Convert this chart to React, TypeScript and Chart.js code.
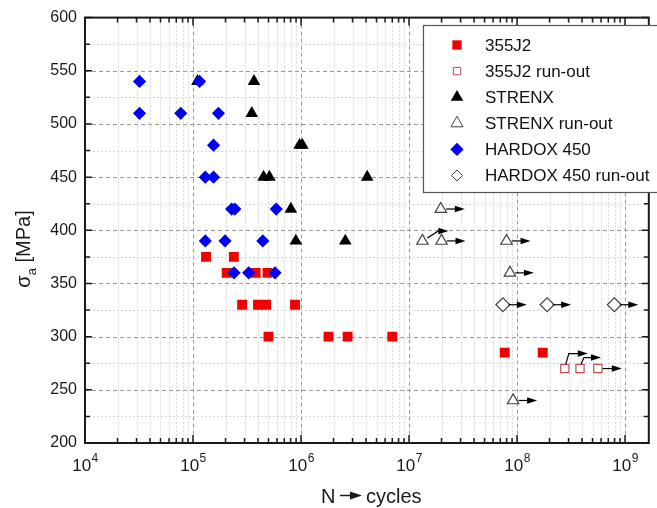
import React, { useEffect, useRef } from 'react';
import { Chart, registerables } from 'chart.js';

Chart.register(...registerables);

// ---- data ----
const s355N = [1.32e5, 2.39e5, 2.05e5, 3.8e5, 4.9e5, 2.85e5, 4.0e5, 4.75e5, 8.8e5, 5.0e5, 1.8e6, 2.7e6, 7.0e6, 7.7e7, 1.73e8];
const s355S = [375, 375, 360, 360, 360, 330, 330, 330, 330, 300, 300, 300, 300, 285, 285];

const s355RunN = [2.77e8, 3.83e8, 5.6e8];
const s355RunS = [270, 270, 270];

const strenxN = [1.1e5, 3.67e5, 3.5e5, 9.7e5, 1.03e6, 4.5e5, 5.1e5, 4.1e6, 8.05e5, 8.95e5, 2.57e6];
const strenxS = [540, 540, 510, 480, 480, 450, 450, 450, 420, 390, 390];

const strenxRunN = [1.97e7, 1.33e7, 2.0e7, 8.0e7, 8.6e7, 9.2e7];
const strenxRunS = [420, 390, 390, 390, 360, 240];

const hardoxN = [3.2e4, 1.15e5, 3.2e4, 7.7e4, 1.72e5, 1.55e5, 1.3e5, 1.55e5, 2.28e5, 2.44e5, 5.9e5, 1.3e5, 1.98e5, 4.43e5, 2.4e5, 3.28e5, 5.75e5];
const hardoxS = [540, 540, 510, 510, 510, 480, 450, 450, 420, 420, 420, 390, 390, 390, 360, 360, 360];

const hardoxRunN = [7.4e7, 1.9e8, 7.96e8];
const hardoxRunS = [330, 330, 330];

const seriesNames = ['355J2', '355J2 run-out', 'STRENX', 'STRENX run-out', 'HARDOX 450', 'HARDOX 450 run-out'];
const runOutNames = ['355J2 run-out', 'STRENX run-out', 'HARDOX 450 run-out'];
// run-out points whose arrow is drawn bent upwards (dataset name, point index)
const bentArrowSeries = ['355J2 run-out', '355J2 run-out', 'STRENX run-out'];
const bentArrowIndex = [0, 1, 1];

const xTickValues = [1e4, 1e5, 1e6, 1e7, 1e8, 1e9];
const yMin = 200;
const yMax = 600;
const xMin = 1e4;
const xMax = 1.66e9;

const FONT = '"Liberation Sans", Arial, Helvetica, sans-serif';

function pts(n: number[], s: number[]) {
  return n.map((v, i) => ({ x: v, y: s[i] }));
}

function markerPath(ctx: CanvasRenderingContext2D, style: string, x: number, y: number, r: number) {
  ctx.beginPath();
  if (style === 'rect') {
    const h = r * Math.SQRT1_2;
    ctx.rect(x - h, y - h, 2 * h, 2 * h);
  } else if (style === 'triangle') {
    for (let k = 0; k < 3; k++) {
      const a = -Math.PI / 2 + (k * 2 * Math.PI) / 3;
      const px = x + Math.cos(a) * r;
      const py = y + Math.sin(a) * r;
      if (k === 0) ctx.moveTo(px, py);
      else ctx.lineTo(px, py);
    }
    ctx.closePath();
  } else {
    ctx.moveTo(x, y - r);
    ctx.lineTo(x + r, y);
    ctx.lineTo(x, y + r);
    ctx.lineTo(x - r, y);
    ctx.closePath();
  }
}

function arrowHead(ctx: CanvasRenderingContext2D, tipX: number, y: number) {
  ctx.beginPath();
  ctx.moveTo(tipX, y);
  ctx.lineTo(tipX - 10, y - 3.2);
  ctx.lineTo(tipX - 10, y + 3.2);
  ctx.closePath();
  ctx.fill();
}

const decor = {
  id: 'decor',
  beforeDatasetsDraw(chart: any) {
    const { ctx, chartArea } = chart;
    const { left, right, top, bottom } = chartArea;
    const xs = chart.scales.x;
    const ys = chart.scales.y;
    ctx.save();
    ctx.lineWidth = 1;
    // vertical grid (log)
    for (let d = 4; d <= 9; d++) {
      for (let k = 1; k <= 9; k++) {
        const v = k * Math.pow(10, d);
        if (v <= xMin || v >= xMax) continue;
        const px = Math.round(xs.getPixelForValue(v)) + 0.5;
        ctx.strokeStyle = k === 1 ? '#9a9a9a' : '#d6d6d6';
        ctx.setLineDash(k === 1 ? [4, 3] : [2, 2]);
        ctx.beginPath();
        ctx.moveTo(px, top);
        ctx.lineTo(px, bottom);
        ctx.stroke();
      }
    }
    for (let v = yMin + 25; v < yMax; v += 25) {
      const py = Math.round(ys.getPixelForValue(v)) + 0.5;
      const major = v % 50 === 0;
      ctx.strokeStyle = major ? '#9a9a9a' : '#d6d6d6';
      ctx.setLineDash(major ? [4, 3] : [2, 2]);
      ctx.beginPath();
      ctx.moveTo(left, py);
      ctx.lineTo(right, py);
      ctx.stroke();
    }
    ctx.restore();
  },
  afterDatasetsDraw(chart: any) {
    const { ctx } = chart;
    ctx.save();
    ctx.strokeStyle = '#000';
    ctx.fillStyle = '#000';
    ctx.lineWidth = 1.2;
    ctx.setLineDash([]);
    chart.data.datasets.forEach((ds: any, di: number) => {
      if (!runOutNames.includes(ds.label)) return;
      const meta = chart.getDatasetMeta(di);
      meta.data.forEach((el: any, i: number) => {
        const x = el.x;
        const y = el.y;
        let bent = -1;
        for (let b = 0; b < bentArrowSeries.length; b++) {
          if (bentArrowSeries[b] === ds.label && bentArrowIndex[b] === i) bent = b;
        }
        if (bent >= 0) {
          const tri = ds.pointStyle === 'triangle';
          const rise = tri ? 10 : bent === 0 ? 15 : 11;
          const sx = tri ? x + 5 : x + 1;
          const sy = tri ? y - 3 : y - 4.5;
          const cx = tri ? x + 16 : x + 4;
          const tip = tri ? x + 26 : bent === 0 ? x + 23 : x + 21;
          ctx.beginPath();
          ctx.moveTo(sx, sy);
          ctx.lineTo(cx, y - rise);
          ctx.lineTo(tip - 8, y - rise);
          ctx.stroke();
          arrowHead(ctx, tip, y - rise);
        } else {
          const r = ds.pointRadius;
          const tip = x + 24;
          ctx.beginPath();
          ctx.moveTo(x + r * 0.8, y);
          ctx.lineTo(tip - 8, y);
          ctx.stroke();
          arrowHead(ctx, tip, y);
        }
      });
    });
    ctx.restore();
  },
  afterDraw(chart: any) {
    const { ctx, chartArea } = chart;
    const { left, right, top, bottom } = chartArea;
    const xs = chart.scales.x;
    const ys = chart.scales.y;
    ctx.save();
    ctx.setLineDash([]);
    ctx.strokeStyle = '#1a1a1a';
    // inward ticks
    ctx.lineWidth = 1.5;
    for (let d = 4; d <= 9; d++) {
      for (let k = 1; k <= 9; k++) {
        const v = k * Math.pow(10, d);
        if (v < xMin || v > xMax) continue;
        const px = xs.getPixelForValue(v);
        const len = k === 1 ? 8 : 5;
        ctx.beginPath();
        ctx.moveTo(px, bottom);
        ctx.lineTo(px, bottom - len);
        ctx.moveTo(px, top);
        ctx.lineTo(px, top + len);
        ctx.stroke();
      }
    }
    for (let v = yMin; v <= yMax; v += 25) {
      const py = ys.getPixelForValue(v);
      const len = v % 50 === 0 ? 7 : 5;
      ctx.beginPath();
      ctx.moveTo(left, py);
      ctx.lineTo(left + len, py);
      ctx.moveTo(right, py);
      ctx.lineTo(right - len, py);
      ctx.stroke();
    }
    // frame
    ctx.lineWidth = 2;
    ctx.strokeRect(left, top, right - left, bottom - top);

    // x tick labels 10^n
    ctx.fillStyle = '#1a1a1a';
    ctx.textBaseline = 'alphabetic';
    ctx.textAlign = 'left';
    const base = '17px ' + FONT;
    const sup = '12px ' + FONT;
    xs.ticks.forEach((t: any) => {
      const v = t.value;
      const px = xs.getPixelForValue(v);
      const exp = String(Math.round(Math.log10(v)));
      ctx.font = base;
      const w1 = ctx.measureText('10').width;
      ctx.font = sup;
      const w2 = ctx.measureText(exp).width;
      const start = px - (w1 + w2) / 2;
      ctx.font = base;
      ctx.fillText('10', start, 471);
      ctx.font = sup;
      ctx.fillText(exp, start + w1 + 0.5, 462);
    });

    // x title: N -> cycles
    ctx.font = '20px ' + FONT;
    ctx.fillText('N', 321, 503);
    ctx.fillText('cycles', 366, 503);
    ctx.strokeStyle = '#1a1a1a';
    ctx.lineWidth = 1.5;
    ctx.beginPath();
    ctx.moveTo(340, 495.5);
    ctx.lineTo(353, 495.5);
    ctx.stroke();
    ctx.beginPath();
    ctx.moveTo(362, 495.5);
    ctx.lineTo(350, 491.5);
    ctx.lineTo(350, 499.5);
    ctx.closePath();
    ctx.fill();

    // y title: sigma_a [MPa]
    ctx.save();
    ctx.translate(30, 249);
    ctx.rotate(-Math.PI / 2);
    const f1 = '20px ' + FONT;
    const f2 = '13px ' + FONT;
    ctx.font = f1;
    const wS = ctx.measureText('σ').width;
    const wR = ctx.measureText(' [MPa]').width;
    ctx.font = f2;
    const wA = ctx.measureText('a').width;
    const total = wS + wA + wR;
    let cx = -total / 2;
    ctx.font = f1;
    ctx.fillText('σ', cx, 0);
    cx += wS;
    ctx.font = f2;
    ctx.fillText('a', cx, 6);
    cx += wA;
    ctx.font = f1;
    ctx.fillText(' [MPa]', cx, 0);
    ctx.restore();

    // legend
    const lx = 423.5;
    const ly = 25.5;
    ctx.fillStyle = '#fff';
    ctx.fillRect(lx, ly, 260, 167);
    ctx.strokeStyle = '#555';
    ctx.lineWidth = 1.2;
    ctx.strokeRect(lx, ly, 260, 167);
    ctx.font = '17px ' + FONT;
    ctx.textBaseline = 'middle';
    chart.data.datasets.forEach((ds: any, i: number) => {
      const y = 45 + i * 26.1;
      const hollow = runOutNames.includes(ds.label);
      const r = ds.pointStyle === 'rect' ? (hollow ? 5.2 : 6.6) : ds.pointStyle === 'triangle' ? (hollow ? 7 : 7.2) : hollow ? 5.5 : 6.6;
      markerPath(ctx, ds.pointStyle, 457, y, r);
      ctx.fillStyle = ds.pointBackgroundColor;
      ctx.fill();
      if (hollow) {
        ctx.strokeStyle = ds.pointBorderColor;
        ctx.lineWidth = 1;
        ctx.stroke();
      }
      ctx.fillStyle = '#111';
      ctx.fillText(ds.label, 485, y + 1);
    });
    ctx.restore();
  },
};

export default function App() {
  const ref = useRef<HTMLCanvasElement>(null);
  useEffect(() => {
    const canvas = ref.current;
    if (!canvas) return;
    const chart = new Chart(canvas, {
      type: 'scatter',
      data: {
        datasets: [
          {
            label: seriesNames[0],
            data: pts(s355N, s355S),
            pointStyle: 'rect',
            pointRadius: 7,
            pointBackgroundColor: '#f20000',
            pointBorderColor: '#f20000',
            pointBorderWidth: 0,
            order: 2,
          },
          {
            label: seriesNames[1],
            data: pts(s355RunN, s355RunS),
            pointStyle: 'rect',
            pointRadius: 5.8,
            pointBackgroundColor: '#ffffff',
            pointBorderColor: '#c0504d',
            pointBorderWidth: 1.2,
            order: 3,
          },
          {
            label: seriesNames[2],
            data: pts(strenxN, strenxS),
            pointStyle: 'triangle',
            pointRadius: 7.3,
            pointBackgroundColor: '#000000',
            pointBorderColor: '#000000',
            pointBorderWidth: 0,
            order: 2,
          },
          {
            label: seriesNames[3],
            data: pts(strenxRunN, strenxRunS),
            pointStyle: 'triangle',
            pointRadius: 6.6,
            pointBackgroundColor: '#ffffff',
            pointBorderColor: '#444444',
            pointBorderWidth: 1.2,
            order: 3,
          },
          {
            label: seriesNames[4],
            data: pts(hardoxN, hardoxS),
            pointStyle: 'rectRot',
            pointRadius: 6.6,
            pointBackgroundColor: '#0000f0',
            pointBorderColor: '#0000f0',
            pointBorderWidth: 0,
            order: 1,
          },
          {
            label: seriesNames[5],
            data: pts(hardoxRunN, hardoxRunS),
            pointStyle: 'rectRot',
            pointRadius: 7,
            pointBackgroundColor: '#ffffff',
            pointBorderColor: '#444444',
            pointBorderWidth: 1.2,
            order: 3,
          },
        ] as any,
      },
      options: {
        animation: false,
        responsive: false,
        devicePixelRatio: 1,
        events: [],
        layout: { padding: { top: 17, right: 1, left: 0, bottom: 0 } },
        plugins: { legend: { display: false }, tooltip: { enabled: false } },
        scales: {
          x: {
            type: 'logarithmic',
            min: xMin,
            max: xMax,
            grid: { display: false, drawTicks: false },
            border: { display: false },
            ticks: { display: false },
            afterBuildTicks: (s: any) => {
              s.ticks = xTickValues.map((v) => ({ value: v, major: true }));
            },
            afterFit: (s: any) => {
              s.height = 65;
            },
          },
          y: {
            type: 'linear',
            min: yMin,
            max: yMax,
            grid: { display: false, drawTicks: false },
            border: { display: false },
            ticks: {
              stepSize: 50,
              padding: 8,
              color: '#1a1a1a',
              font: { size: 16, family: FONT },
            },
            afterFit: (s: any) => {
              s.width = 85;
            },
          },
        },
      } as any,
      plugins: [decor],
    });
    return () => chart.destroy();
  }, []);
  return (
    <div style={{ position: 'absolute', left: 0, top: 0, width: 657, height: 508, background: '#fff' }}>
      <canvas ref={ref} width={657} height={508} style={{ display: 'block', width: 657, height: 508 }} />
    </div>
  );
}
